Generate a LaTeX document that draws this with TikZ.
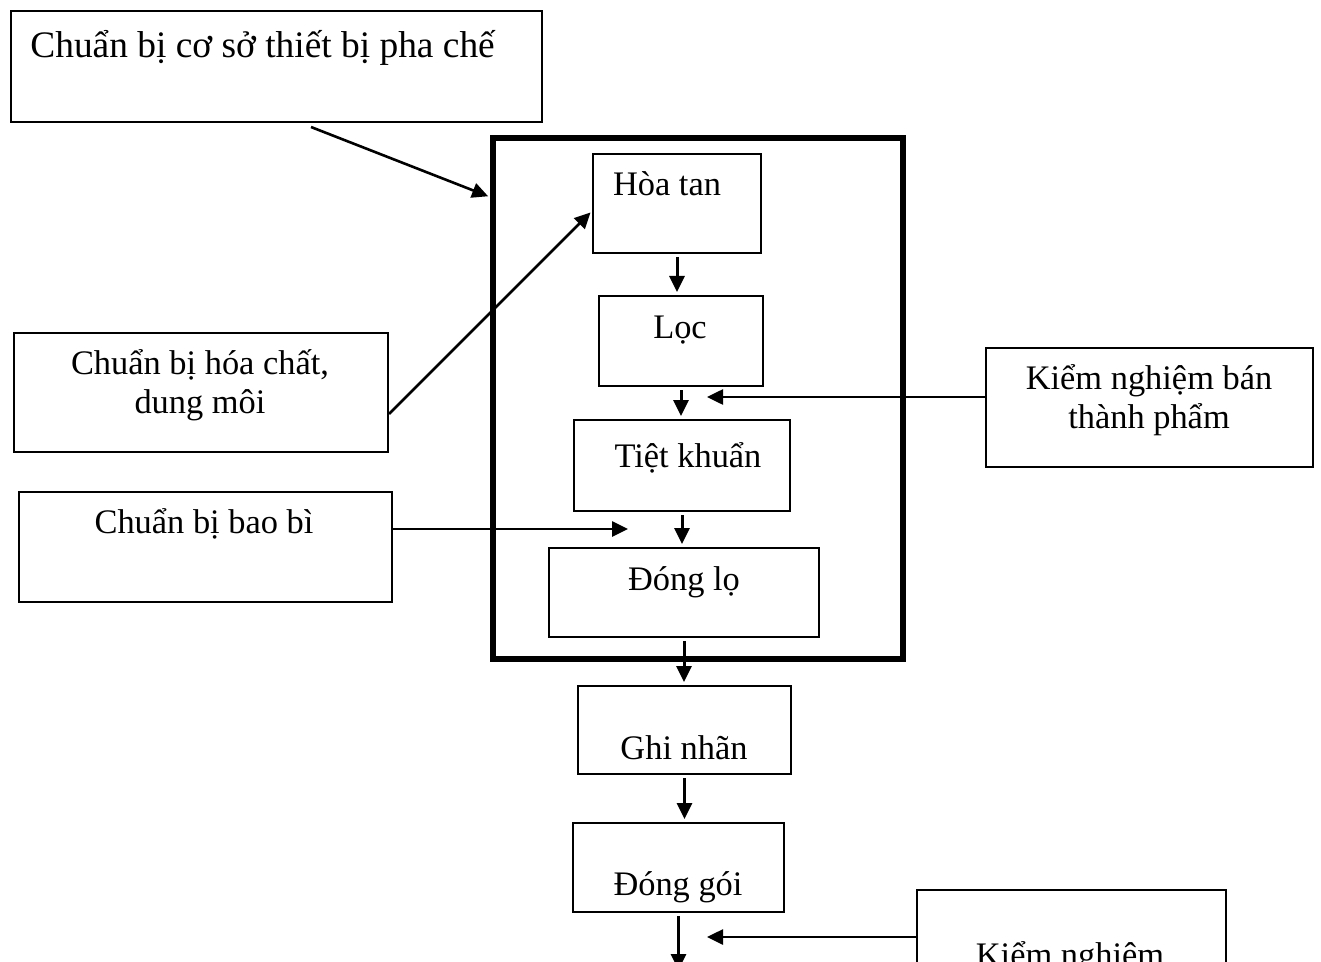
\documentclass[tikz,border=0pt]{standalone}
\usepackage{fontspec}
\setmainfont{Liberation Serif}
\usetikzlibrary{arrows.meta, positioning}

\begin{document}
\begin{tikzpicture}[x=0.5pt, y=-0.5pt, >={Triangle[length=8pt,width=7.5pt]}]
    \tikzstyle{box}=[draw, rectangle, inner sep=0pt, anchor=north west, line width=1pt]
    \tikzstyle{stage box}=[box, line width=3pt]
    \tikzstyle{txt}=[inner sep=0pt, anchor=base, align=center, font=\fontsize{17.2}{19.5}\selectfont]
    \tikzstyle{flow}=[->, line width=1.5pt, shorten >=1.5pt, shorten <=1.5pt]
    \tikzstyle{feed}=[->, line width=1.3pt, shorten >=1pt]

    % page frame
    \clip (0,0) rectangle (1321,962);
    \fill[white] (0,0) rectangle (1321,962);

    % Draw the boxes
    \node[box, minimum width=265.5pt, minimum height=55.5pt] (prep) at (10,10) {};
    \node[stage box, minimum width=205pt, minimum height=260.5pt] (stage) at (490,135) {};
    \node[box, minimum width=84pt, minimum height=49.5pt] (hoatan) at (592,153) {};
    \node[box, minimum width=82pt, minimum height=45pt] (loc) at (598,295) {};
    \node[box, minimum width=108pt, minimum height=45.5pt] (tiet) at (573,419) {};
    \node[box, minimum width=135pt, minimum height=44.5pt] (dong) at (548,547) {};
    \node[box, minimum width=106.5pt, minimum height=44pt] (ghi) at (577,685) {};
    \node[box, minimum width=105.5pt, minimum height=44.5pt] (goi) at (572,822) {};
    \node[box, minimum width=187pt, minimum height=59.5pt] (hoachat) at (13,332) {};
    \node[box, minimum width=163.5pt, minimum height=59.5pt] (knb) at (985,347) {};
    \node[box, minimum width=186.5pt, minimum height=55pt] (baobi) at (18,491) {};
    \node[box, minimum width=154.5pt, minimum height=60pt] (knt) at (916,889) {};

    % Texts of the boxes
    \node[txt, anchor=base west, font=\fontsize{18.7}{21}\selectfont] (t-prep) at (30,58) {Chuẩn bị cơ sở thiết bị pha chế};
    \node[txt] (t-hoatan) at (667,196) {Hòa tan};
    \node[txt] (t-loc) at (680,339) {Lọc};
    \node[txt] (t-tiet) at (688,467) {Tiệt khuẩn};
    \node[txt] (t-dong) at (684,590) {Đóng lọ};
    \node[txt] (t-ghi) at (684,759) {Ghi nhãn};
    \node[txt] (t-goi) at (678,895) {Đóng gói};
    \node[txt] (t-hoachat) at (200,413) {Chuẩn bị hóa chất,\\dung môi};
    \node[txt] (t-knb) at (1149,428) {Kiểm nghiệm bán\\thành phẩm};
    \node[txt] (t-baobi) at (204,533) {Chuẩn bị bao bì};
    \node[txt] (t-knt) at (1070,966) {Kiểm nghiệm};

    % Free ends of the side arrows
    \coordinate (c-prep) at (311,127);
    \coordinate (c-stage) at (0,197);
    \coordinate (c-hc) at (0,414);
    \coordinate (c-ht) at (0,211);
    \coordinate (c-knb) at (705,397);
    \coordinate (c-bb) at (630,529);
    \coordinate (c-knt) at (705,937);

    % Main flow
    \foreach \a/\b in {hoatan/loc, loc/tiet, tiet/dong, dong/ghi, ghi/goi}
        \draw[flow] (\a.south) -- (\a.south |- \b.north);
    \draw[flow] (goi.south) -- ++(0,60);

    % Side inputs
    \draw[feed] (c-prep) -- (stage.west |- c-stage);
    \draw[feed] (hoachat.east |- c-hc) -- (hoatan.west |- c-ht);
    \draw[feed] (knb.west |- c-knb) -- (c-knb);
    \draw[feed] (baobi.east |- c-bb) -- (c-bb);
    \draw[feed] (knt.west |- c-knt) -- (c-knt);
\end{tikzpicture}
\end{document}
